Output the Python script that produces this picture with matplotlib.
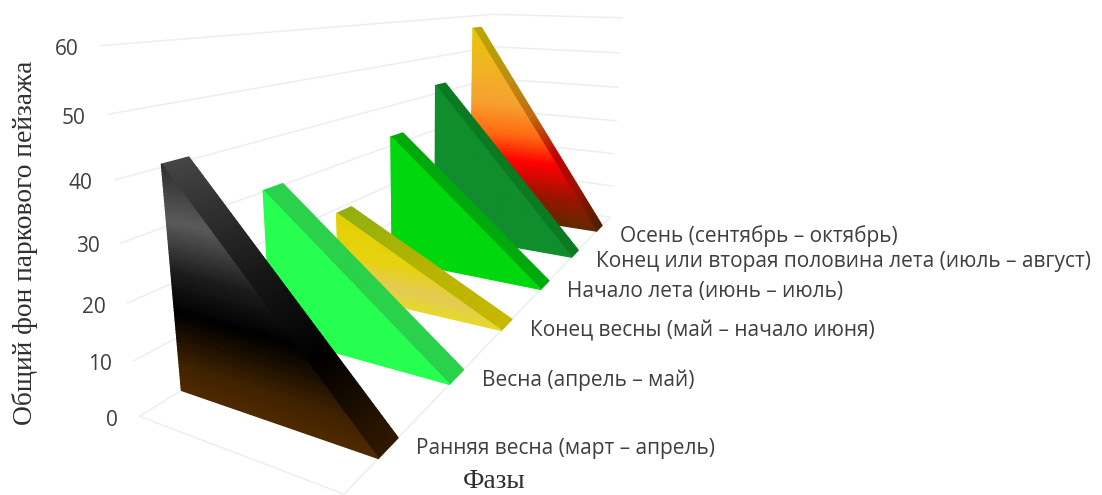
import numpy as np
import matplotlib
matplotlib.use("Agg")
import matplotlib.pyplot as plt
from matplotlib.colors import LinearSegmentedColormap
from mpl_toolkits.mplot3d import proj3d
from mpl_toolkits.mplot3d.art3d import Poly3DCollection

phases = ['Ранняя весна (март – апрель)', 'Весна (апрель – май)', 'Конец весны (май – начало июня)',
          'Начало лета (июнь – июль)', 'Конец или вторая половина лета (июль – август)',
          'Осень (сентябрь – октябрь)']
start_values = [40.5, 30.2, 19.0, 32.2, 42.2, 56.4]
end_values = [0, 0, 0, 0, 0, 0]
z_ticks = [0, 10, 20, 30, 40, 50, 60]

front_colors = [
    [(0, '#4e2900'), (.12, '#3f2200'), (.36, '#000000'), (.55, '#1c1c1c'), (.77, '#5a5a5a'), (1, '#2f2f2f')],
    [(0, '#26ff50'), (1, '#26ff50')],
    [(0, '#e6d82c'), (.2, '#e3cb55'), (.5, '#e7d210'), (1, '#e2d000')],
    [(0, '#00d80e'), (1, '#00d80e')],
    [(0, '#108d2d'), (1, '#108d2d')],
    [(0, '#5e2a00'), (.15, '#9a1400'), (.32, '#ff0000'), (.46, '#ff6a10'), (.62, '#f7a030'), (.85, '#efb820'), (1, '#e6c400')],
]
top_colors = [
    [(0, '#301800'), (.3, '#000000'), (.6, '#181818'), (1, '#454545')],
    [(0, '#2ad14a'), (1, '#2ad14a')],
    [(0, '#c8b800'), (.5, '#b4b400'), (1, '#8fb010')],
    [(0, '#00aa0c'), (1, '#00aa0c')],
    [(0, '#0b7a20'), (1, '#0b7a20')],
    [(0, '#4a2000'), (.2, '#a01000'), (.35, '#c00000'), (.55, '#c06a10'), (.75, '#bf8f10'), (1, '#b8a800')],
]

GRID = '#eeeeee'
TEXT = '#3f3f3f'
DEPTH_GAP = 0.3775   # free space on each side of a series along the depth axis
N_STRIPS = 70

W, H = 1102, 495
side = 682.8
fig = plt.figure(figsize=(W / 100, H / 100), dpi=100)
ax = fig.add_axes([96.56 / W, -18.03 / H, side / W, side / H], projection='3d')
ax.set_axis_off()
ax.computed_zorder = False
ax.patch.set_alpha(0)
ax.view_init(elev=13.71, azim=-63.0, roll=-0.415)
ax.set_proj_type('persp', focal_length=np.exp(-1.623))
ax.set_box_aspect((np.exp(-0.3971), np.exp(0.8534), 1))
ax.set_xlim(0, 1, view_margin=0)
ax.set_ylim(0, len(phases), view_margin=0)
ax.set_zlim(0, z_ticks[-1], view_margin=0)

# walls and floor
n = len(phases)
for z in z_ticks:
    ax.plot([0, 0, 1], [0, n, n], [z, z, z], color=GRID, lw=1.1, zorder=1)
ax.plot([0, 1, 1], [0, 0, n], [0, 0, 0], color=GRID, lw=1.1, zorder=1)


def draw_series(i, v):
    """front face and sloped top of one area, shaded by height"""
    y0, y1 = i + DEPTH_GAP, i + 1 - DEPTH_GAP
    front_map = LinearSegmentedColormap.from_list('f', front_colors[i])
    top_map = LinearSegmentedColormap.from_list('t', top_colors[i])
    levels = np.linspace(0, 1, N_STRIPS + 1)
    front, front_c, top, top_c = [], [], [], []
    for a, b in zip(levels[:-1], levels[1:]):
        front.append([(0, y0, a * v), (1 - a, y0, a * v), (1 - b, y0, b * v), (0, y0, b * v)])
        front_c.append(front_map((a + b) / 2))
        top.append([(1 - a, y0, a * v), (1 - a, y1, a * v), (1 - b, y1, b * v), (1 - b, y0, b * v)])
        top_c.append(top_map((a + b) / 2))
    for faces, cols in ((top, top_c), (front, front_c)):
        poly = Poly3DCollection(faces, facecolors=cols, edgecolors=cols, linewidths=1.0, zorder=10 + 2 * (n - i))
        ax.add_collection3d(poly, autolim=False)


for i, v in enumerate(start_values):
    draw_series(i, v)

# labels sit next to projected points of the scene
M = ax.get_proj()
for z in z_ticks:
    px, py, _ = proj3d.proj_transform(0, 0, z, M)
    ax.annotate(str(z), (px, py), xytext=(-22, -4), textcoords='offset pixels', ha='right', va='center',
                fontsize=15, family='Open Sans', color=TEXT, annotation_clip=False)
for i, name in enumerate(phases):
    px, py, _ = proj3d.proj_transform(1, i + 1 - DEPTH_GAP, end_values[i], M)
    ax.annotate(name, (px, py), xytext=(18, -11), textcoords='offset pixels', ha='left', va='center',
                fontsize=15, family='Open Sans', color=TEXT, annotation_clip=False)

fig.text(25 / W, 1 - 243 / H, 'Общий фон паркового пейзажа', rotation=90, ha='center', va='center',
         fontsize=19.8, family='Liberation Serif', color='#303030')
fig.text(494 / W, 1 - 481 / H, 'Фазы', ha='center', va='center',
         fontsize=19.5, family='Liberation Serif', color='#303030')

fig.savefig('out.png', dpi=100)
